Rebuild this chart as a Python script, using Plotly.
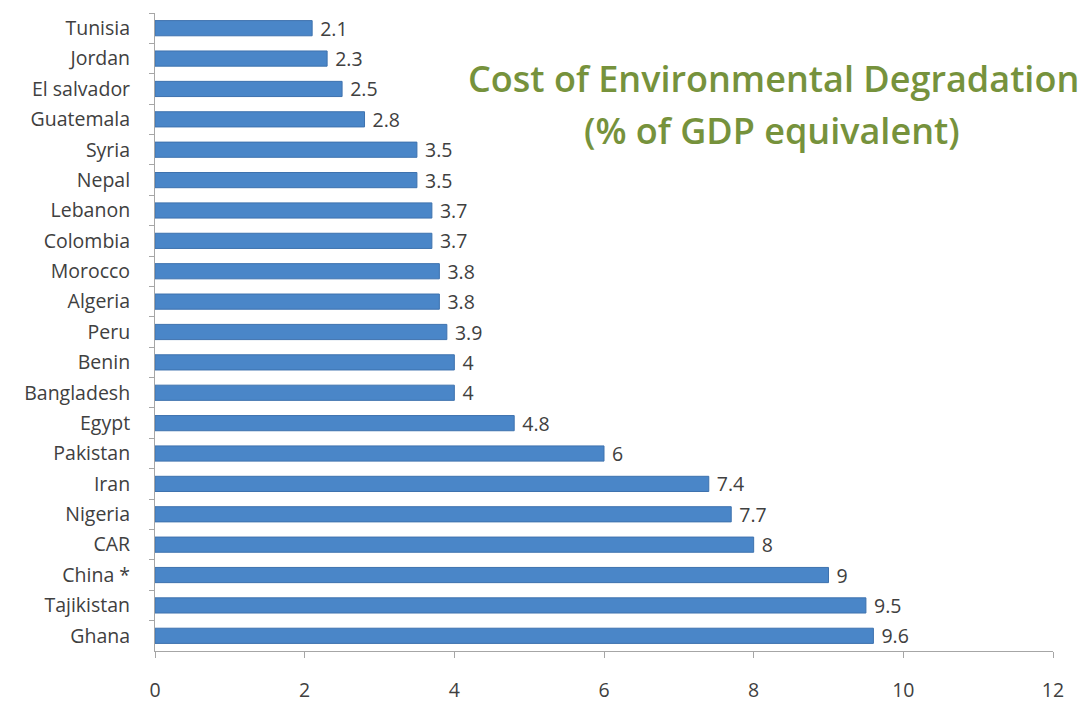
import plotly.graph_objects as go

countries = ["Tunisia", "Jordan", "El salvador", "Guatemala", "Syria", "Nepal", "Lebanon",
             "Colombia", "Morocco", "Algeria", "Peru", "Benin", "Bangladesh", "Egypt",
             "Pakistan", "Iran", "Nigeria", "CAR", "China *", "Tajikistan", "Ghana"]
values = [2.1, 2.3, 2.5, 2.8, 3.5, 3.5, 3.7, 3.7, 3.8, 3.8, 3.9, 4, 4, 4.8, 6, 7.4, 7.7, 8, 9, 9.5, 9.6]
x_ticks = [0, 2, 4, 6, 8, 10, 12]
title_lines = ["Cost of Environmental Degradation", "(% of GDP equivalent)"]

FONT = "Open Sans"
TXT = "#404040"

fig = go.Figure(go.Bar(
    y=countries, x=values, orientation="h",
    marker=dict(color="#4A86C8", line=dict(color="#3E72AE", width=1)),
    text=[f" {v:g}" for v in values], textposition="outside",
    textfont=dict(family=FONT, size=19.5, color=TXT),
    constraintext="none", cliponaxis=False,
))

L, R, T, B = 155, 1053, 13, 651


def dom_x(px):
    return (px - L) / (R - L)


def dom_y(py):
    return 1 - (py - T) / (B - T)


fig.update_layout(
    width=1090, height=703,
    margin=dict(l=L, r=1090 - R, t=T, b=703 - B),
    paper_bgcolor="white", plot_bgcolor="white",
    bargap=0.5, showlegend=False,
    font=dict(family=FONT, size=18, color=TXT),
    annotations=[
        dict(text=title_lines[0], xref="paper", yref="paper",
             x=dom_x(773), y=dom_y(78), xanchor="center", yanchor="middle",
             showarrow=False, font=dict(family=FONT, size=36, color="#76923C", weight=600)),
        dict(text=title_lines[1], xref="paper", yref="paper",
             x=dom_x(772), y=dom_y(130), xanchor="center", yanchor="middle",
             showarrow=False, font=dict(family=FONT, size=36, color="#76923C", weight=600)),
    ],
)

fig.update_xaxes(range=[0, 12], tickvals=x_ticks, showgrid=False, zeroline=False,
                 showline=True, linecolor="#A6A6A6", linewidth=1, automargin=False,
                 ticks="outside", ticklen=6, tickcolor="#A6A6A6",
                 ticklabelstandoff=16, tickfont=dict(family=FONT, size=19.5, color=TXT))
fig.update_yaxes(autorange="reversed", showgrid=False, zeroline=False, automargin=False,
                 showline=True, linecolor="#A6A6A6", linewidth=1,
                 ticks="outside", ticklen=5, tickcolor="#A6A6A6", tickson="boundaries",
                 ticklabelstandoff=20, tickfont=dict(family=FONT, size=19.5, color=TXT))

fig.write_html("out.html")
